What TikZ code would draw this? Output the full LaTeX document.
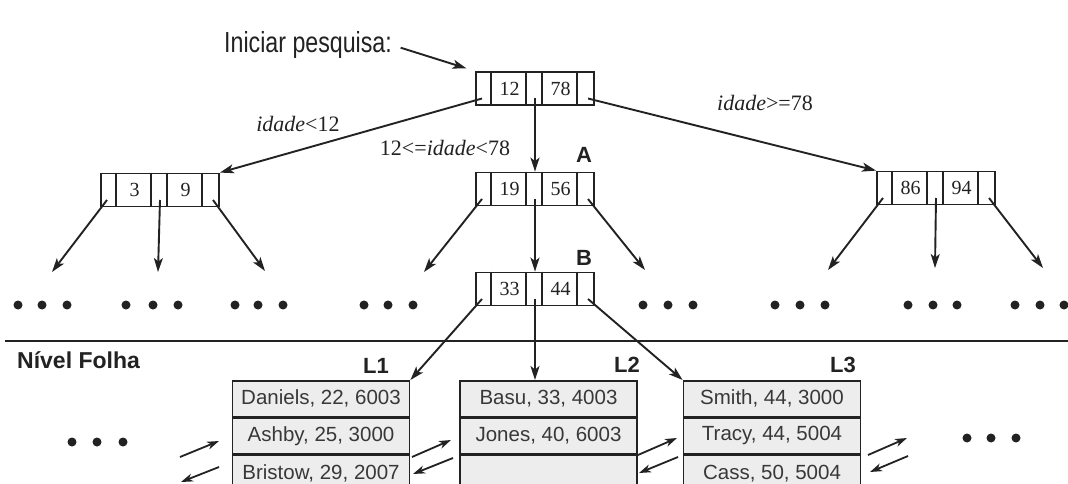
\documentclass[tikz,border=0pt]{standalone}
\usepackage{fontspec}
\setmainfont{Liberation Serif}
\setsansfont{Liberation Sans}
\usetikzlibrary{arrows.meta,calc}

\definecolor{ink}{HTML}{222222}
\definecolor{leaffill}{HTML}{EDEDED}

% B+ tree index node: two keys between three pointer cells.
% #1 name, #2 centre x, #3 centre y, #4 first key, #5 second key
\newcommand\bpnode[5]{%
  \node[treebox] (#1) at (#2,#3) {};
  \foreach \dx in {16,51,67,102}
    \draw[cellline] ($(#1.north west)+(\dx,0)$) -- ($(#1.south west)+(\dx,0)$);
  \node[keytext] (#1-k1) at ($(#1.center)+(-25.5,0)$) {#4};
  \node[keytext] (#1-k2) at ($(#1.center)+(25.5,0)$) {#5};
  \coordinate (#1-p0) at ($(#1.center)+(-53,10)$);
  \coordinate (#1-p1) at ($(#1.center)+(0,10)$);
  \coordinate (#1-p2) at ($(#1.center)+(53,10)$);
}

\begin{document}
\begin{tikzpicture}[x=1pt,y=-1pt,color=ink,
  treebox/.style={draw=ink, line width=1.8pt, minimum width=118pt, minimum height=33pt, inner sep=0pt},
  cellline/.style={line width=1.6pt},
  keytext/.style={font=\fontsize{20}{23}\selectfont, inner sep=0pt},
  ptr/.style={-{Stealth[length=14pt,width=9pt,inset=3.5pt]}, line width=1.9pt},
  sib/.style={-{Stealth[length=12pt,width=8pt,inset=3.5pt]}, line width=1.8pt},
  leafrow/.style={draw=ink, fill=leaffill, line width=1.8pt, minimum width=177pt, minimum height=35.5pt,
    inner sep=0pt, anchor=north, text=ink!90, font=\sffamily\fontsize{20.5}{24}\selectfont},
  cond/.style={font=\fontsize{22}{26}\selectfont, inner sep=0pt},
  tag/.style={font=\sffamily\bfseries\fontsize{22}{26}\selectfont, inner sep=0pt},
  dot/.style={fill=ink}]

\useasboundingbox (0,0) rectangle (1068,484);
\clip (0,0) rectangle (1068,484);
\fill[white] (0,0) rectangle (1068,484);

% index levels
\bpnode{root}{535}{88.5}{12}{78}
\bpnode{ln}{160}{190}{3}{9}
\bpnode{A}{535}{189}{19}{56}
\bpnode{rn}{936}{188}{86}{94}
\bpnode{B}{535}{289}{33}{44}

\node[tag] (tA) at (584,155) {A};
\node[tag] (tB) at (584,258) {B};

% entry point
\node[font=\sffamily\fontsize{29}{34}\selectfont, anchor=west, inner sep=0pt] (start) at (224,45)
  {\scalebox{0.8}[1]{Iniciar pesquisa:}};
\draw[ptr, shorten <=9pt, shorten >=9pt] (start.east) -- (root.north west);

% root pointers with their search conditions
\draw[ptr] (root-p0) -- (ln.north east);
\draw[ptr] (root-p1) -- (A.north);
\draw[ptr] (root-p2) -- (rn.north west);
\node[cond] (c1) at (298,124) {\textit{idade}<12};
\node[cond] (c2) at (445,148) {12<=\textit{idade}<78};
\node[cond] (c3) at (765,103) {\textit{idade}>=78};

% pointers to the unexpanded subtrees
\coordinate (e1) at (52,272);
\coordinate (e2) at (158,272);
\coordinate (e3) at (265,271);
\coordinate (e4) at (424,272);
\coordinate (e5) at (645,270);
\coordinate (e6) at (828,270);
\coordinate (e7) at (935,268);
\coordinate (e8) at (1043,268);
\draw[ptr] (ln-p0) -- (e1);
\draw[ptr] (ln-p1) -- (e2);
\draw[ptr] (ln-p2) -- (e3);
\draw[ptr] (A-p0) -- (e4);
\draw[ptr] (A-p1) -- (B.north);
\draw[ptr] (A-p2) -- (e5);
\draw[ptr] (rn-p0) -- (e6);
\draw[ptr] (rn-p1) -- (e7);
\draw[ptr] (rn-p2) -- (e8);

% elided subtrees
\foreach \x in {18,42,67,126,153,178,235,258,283,364,388,413,643,668,693,775,800,825,908,933,957,1015,1040,1064}
  \fill[dot] (\x,305) circle (4.5pt);

% leaf level separator
\draw[line width=1.9pt] (5,341) -- (1068,341);
\node[tag, anchor=west, font=\sffamily\bfseries\fontsize{23}{27}\selectfont] (lvl) at (17,360) {Nível Folha};

% leaf pages
\node[leafrow] (L1a) at (321,380) {Daniels, 22, 6003};
\node[leafrow] (L1b) at (L1a.south) {Ashby, 25, 3000};
\node[leafrow] (L1c) at (L1b.south) {Bristow, 29, 2007};
\node[leafrow] (L2a) at (548.5,380) {Basu, 33, 4003};
\node[leafrow] (L2b) at (L2a.south) {Jones, 40, 6003};
\node[leafrow] (L2c) at (L2b.south) {};
\node[leafrow] (L3a) at (772,380) {Smith, 44, 3000};
\node[leafrow] (L3b) at (L3a.south) {Tracy, 44, 5004};
\node[leafrow] (L3c) at (L3b.south) {Cass, 50, 5004};

\node[tag, anchor=east] (tL1) at (389,366) {L1};
\node[tag, anchor=east] (tL2) at (640,365) {L2};
\node[tag, anchor=east] (tL3) at (856,365) {L3};

\draw[ptr] (B-p0) -- (L1a.north east);
\draw[ptr] (B-p1) -- (B-p1 |- L2a.north);
\draw[ptr] (B-p2) -- (L3a.north west);

% sibling links between leaf pages
\coordinate (s0a) at (180,457); \coordinate (s0b) at (219,441);
\coordinate (s0c) at (219,467); \coordinate (s0d) at (181,482);
\coordinate (s1a) at (412,457); \coordinate (s1b) at (451,440);
\coordinate (s1c) at (453,458); \coordinate (s1d) at (413,474);
\coordinate (s2a) at (638,455); \coordinate (s2b) at (677,438);
\coordinate (s2c) at (678,457); \coordinate (s2d) at (639,473);
\coordinate (s3a) at (868,455); \coordinate (s3b) at (907,438);
\coordinate (s3c) at (908,456); \coordinate (s3d) at (870,472);
\foreach \i in {0,1,2,3} {
  \draw[sib] (s\i a) -- (s\i b);
  \draw[sib] (s\i c) -- (s\i d);
}

% more leaves on either side
\foreach \x in {72,97,123} \fill[dot] (\x,442) circle (4.5pt);
\foreach \x in {967,991,1016} \fill[dot] (\x,438) circle (4.5pt);

\end{tikzpicture}
\end{document}
